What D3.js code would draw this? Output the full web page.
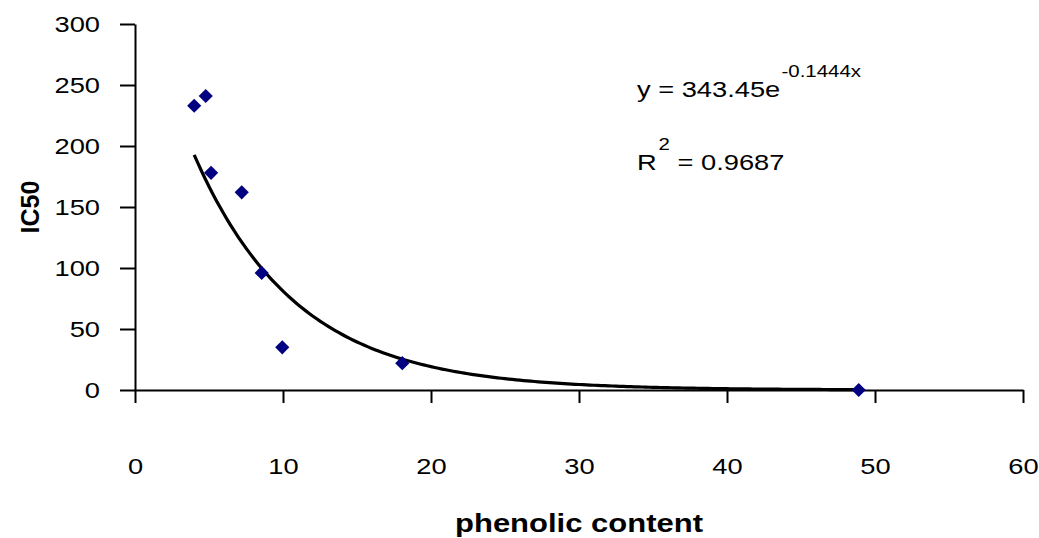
<!DOCTYPE html>
<html>
<head>
<meta charset="utf-8">
<script src="https://cdn.jsdelivr.net/npm/d3@7"></script>
<style>
  body { margin: 0; background: #fff; }
  text { font-family: "Liberation Sans", Arial, sans-serif; }
</style>
</head>
<body>
<script>
// data
var phenolic = [4.0, 4.78, 5.14, 7.21, 8.56, 9.95, 18.06, 48.9];
var ic50 = [233, 241, 178, 162, 96, 35, 22, 0];
var xTicks = [0, 10, 20, 30, 40, 50, 60];
var yTicks = [0, 50, 100, 150, 200, 250, 300];
// exponential trendline as printed on the chart
var fitA = 343.45, fitB = -0.1444, fitR2 = "0.9687";

var stretch = 1.24; // the source picture is wider than tall text would be

var svg = d3.select("body")
  .append("svg")
  .attr("width", 1039)
  .attr("height", 538);

var x = d3.scaleLinear().domain([0, 60]).range([135, 1023]);
var y = d3.scaleLinear().domain([0, 300]).range([390, 24]);

// y axis
var yAxis = svg.append("g")
  .attr("transform", "translate(" + x(0) + ",0)")
  .call(d3.axisLeft(y).tickValues(yTicks).tickSize(15).tickSizeOuter(0));
yAxis.select(".domain").attr("stroke-width", 2);
yAxis.selectAll(".tick line").attr("stroke-width", 2);
yAxis.selectAll(".tick text")
  .attr("x", -35 / stretch)
  .attr("dy", "0.35em")
  .attr("transform", "scale(" + stretch + ",1)")
  .style("font-size", "22px")
  .attr("fill", "#000");

// x axis
var xAxis = svg.append("g")
  .attr("transform", "translate(0," + y(0) + ")")
  .call(d3.axisBottom(x).tickValues(xTicks).tickSize(13).tickSizeOuter(0));
xAxis.select(".domain").attr("stroke-width", 2);
xAxis.selectAll(".tick line").attr("stroke-width", 2);
xAxis.selectAll(".tick text")
  .attr("y", 76)
  .attr("dy", "0.35em")
  .attr("transform", "scale(" + stretch + ",1)")
  .style("font-size", "22px")
  .attr("fill", "#000");

// trendline
var xMin = d3.min(phenolic), xMax = d3.max(phenolic);
var trend = d3.range(xMin, xMax, 0.25).concat([xMax]).map(function(v) {
  return {x: v, y: fitA * Math.exp(fitB * v)};
});
var line = d3.line()
  .x(function(d) { return x(d.x); })
  .y(function(d) { return y(d.y); });
svg.append("path")
  .attr("d", line(trend))
  .attr("fill", "none")
  .attr("stroke", "#000")
  .attr("stroke-width", 3.2);

// points
var diamond = d3.symbol().type(d3.symbolDiamond2).size(128);
svg.selectAll(".pt")
  .data(phenolic)
  .enter()
  .append("path")
  .attr("class", "pt")
  .attr("d", diamond)
  .attr("transform", function(d, i) {
    return "translate(" + x(d) + "," + y(ic50[i]) + ")";
  })
  .attr("fill", "#000080");

// equation text
var eq = svg.append("text")
  .attr("transform", "translate(637,97) scale(" + stretch + ",1)")
  .style("font-size", "22px");
eq.append("tspan").text("y = " + fitA + "e");
eq.append("tspan").attr("dx", 1).attr("dy", -20).style("font-size", "16.5px").text(fitB + "x");

var r2 = svg.append("text")
  .attr("transform", "translate(637,170) scale(" + stretch + ",1)")
  .style("font-size", "22px");
r2.append("tspan").text("R");
r2.append("tspan").attr("dx", 1.5).attr("dy", -20).style("font-size", "16.5px").text("2");
r2.append("tspan").attr("dy", 20).text(" = " + fitR2);

// axis titles
svg.append("text")
  .attr("transform", "translate(579,532) scale(" + stretch + ",1)")
  .style("text-anchor", "middle")
  .style("font-size", "25px")
  .style("font-weight", "bold")
  .text("phenolic content");

svg.append("text")
  .attr("transform", "translate(39,207) rotate(-90)")
  .style("text-anchor", "middle")
  .style("font-size", "25px")
  .style("font-weight", "bold")
  .text("IC50");
</script>
</body>
</html>
